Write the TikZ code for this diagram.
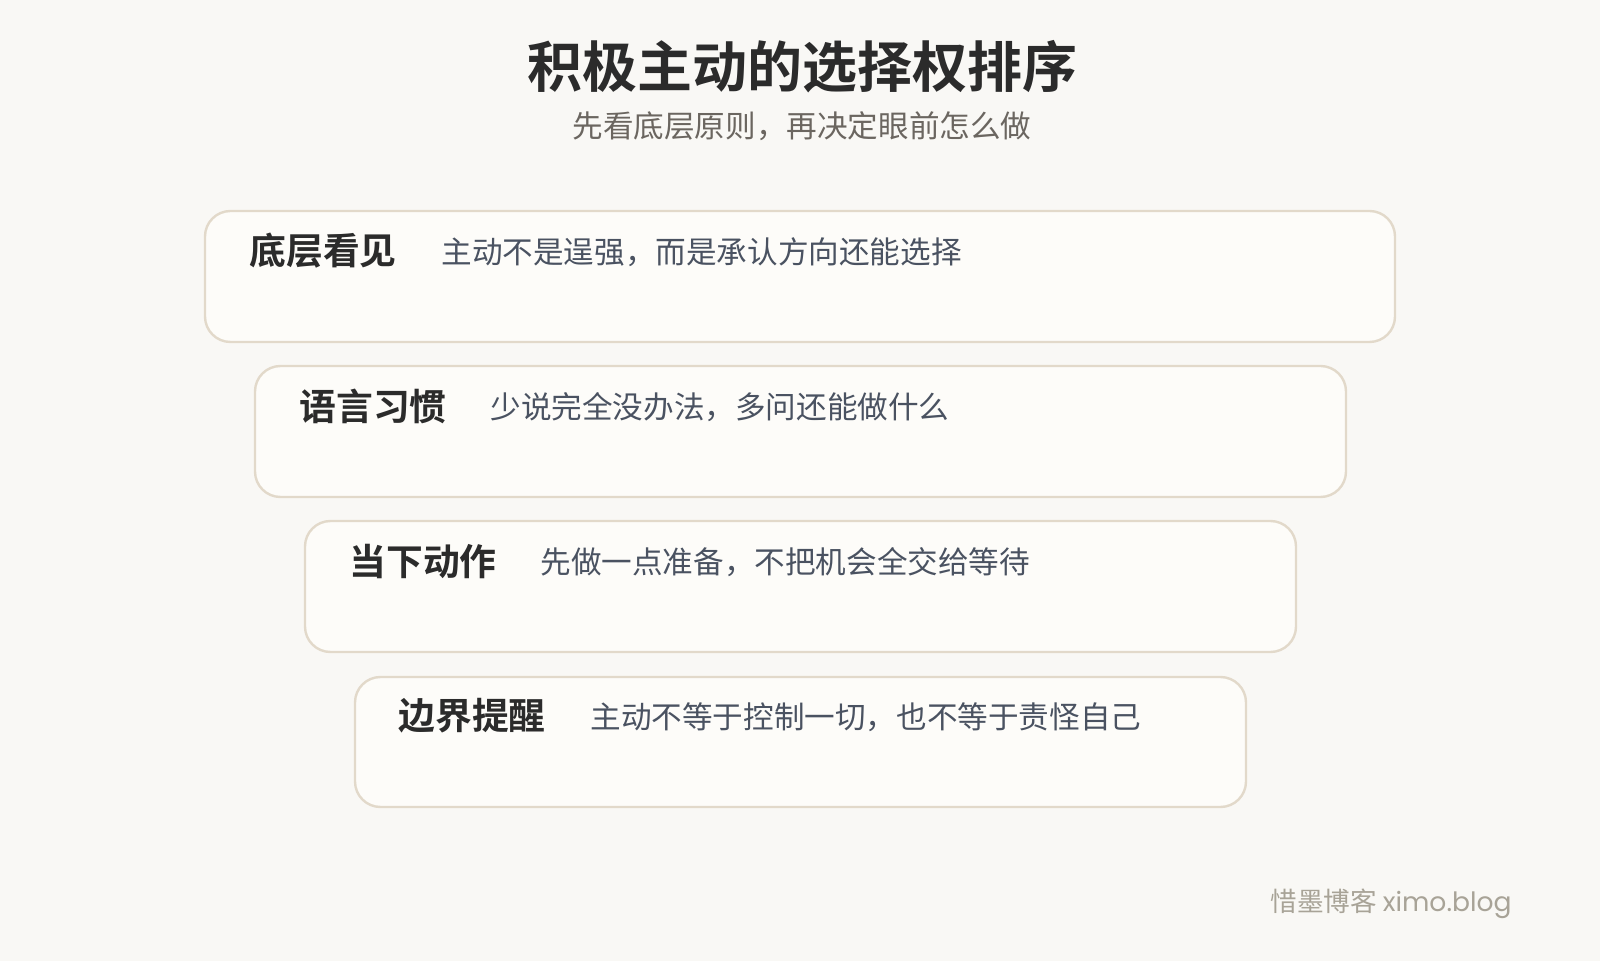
\documentclass[tikz,border=0pt]{standalone}
\usepackage{fontspec}
\setmainfont{Noto Sans CJK SC}
\newfontfamily\cjkbold{Noto Sans CJK SC Bold}
\newfontfamily\latinft{Poppins}
\definecolor{bgc}{HTML}{F9F8F5}
\definecolor{boxfill}{HTML}{FDFCF9}
\definecolor{boxline}{HTML}{E2D9CA}
\definecolor{titlec}{HTML}{2B2B2B}
\definecolor{subc}{HTML}{6B6660}
\definecolor{descc}{HTML}{4A5261}
\definecolor{footc}{HTML}{A8A397}
\tikzset{
  x=0.5pt, y=-0.5pt,
  card/.style={draw=boxline, line width=1.2pt, fill=boxfill, rounded corners=12.75pt},
  lbl/.style={anchor=west, inner sep=0pt, text=titlec, font=\cjkbold\fontsize{18.4pt}{20pt}\selectfont},
  desc/.style={anchor=west, inner sep=0pt, text=descc, font=\fontsize{15.3pt}{17pt}\selectfont},
}
\begin{document}
\begin{tikzpicture}
\path[use as bounding box, fill=bgc] (0,0) rectangle (1600,961);
\node[inner sep=0pt, text=titlec, font=\cjkbold\fontsize{27.5pt}{30pt}\selectfont] (title) at (802,67) {积极主动的选择权排序};
\node[inner sep=0pt, text=subc, font=\fontsize{15.3pt}{17pt}\selectfont] (sub) at (802,126) {先看底层原则，再决定眼前怎么做};

\path[card] (205,211) rectangle (1395,342);
\path[card] (255,366) rectangle (1346,497);
\path[card] (305,521) rectangle (1296,652);
\path[card] (355,677) rectangle (1246,807);

\node[lbl] (l1) at (249,251) {底层看见};
\node[desc] (d1) at (441,252) {主动不是逞强，而是承认方向还能选择};
\node[lbl] (l2) at (299,406) {语言习惯};
\node[desc] (d2) at (490,407) {少说完全没办法，多问还能做什么};
\node[lbl] (l3) at (349,561) {当下动作};
\node[desc] (d3) at (540,562) {先做一点准备，不把机会全交给等待};
\node[lbl] (l4) at (398,716) {边界提醒};
\node[desc] (d4) at (590,717) {主动不等于控制一切，也不等于责怪自己};

\node[anchor=east, inner sep=0pt, text=footc, font=\fontsize{13.3pt}{15pt}\selectfont] (foot) at (1512,904) {惜墨博客 {\latinft ximo.blog}};
\end{tikzpicture}
\end{document}
